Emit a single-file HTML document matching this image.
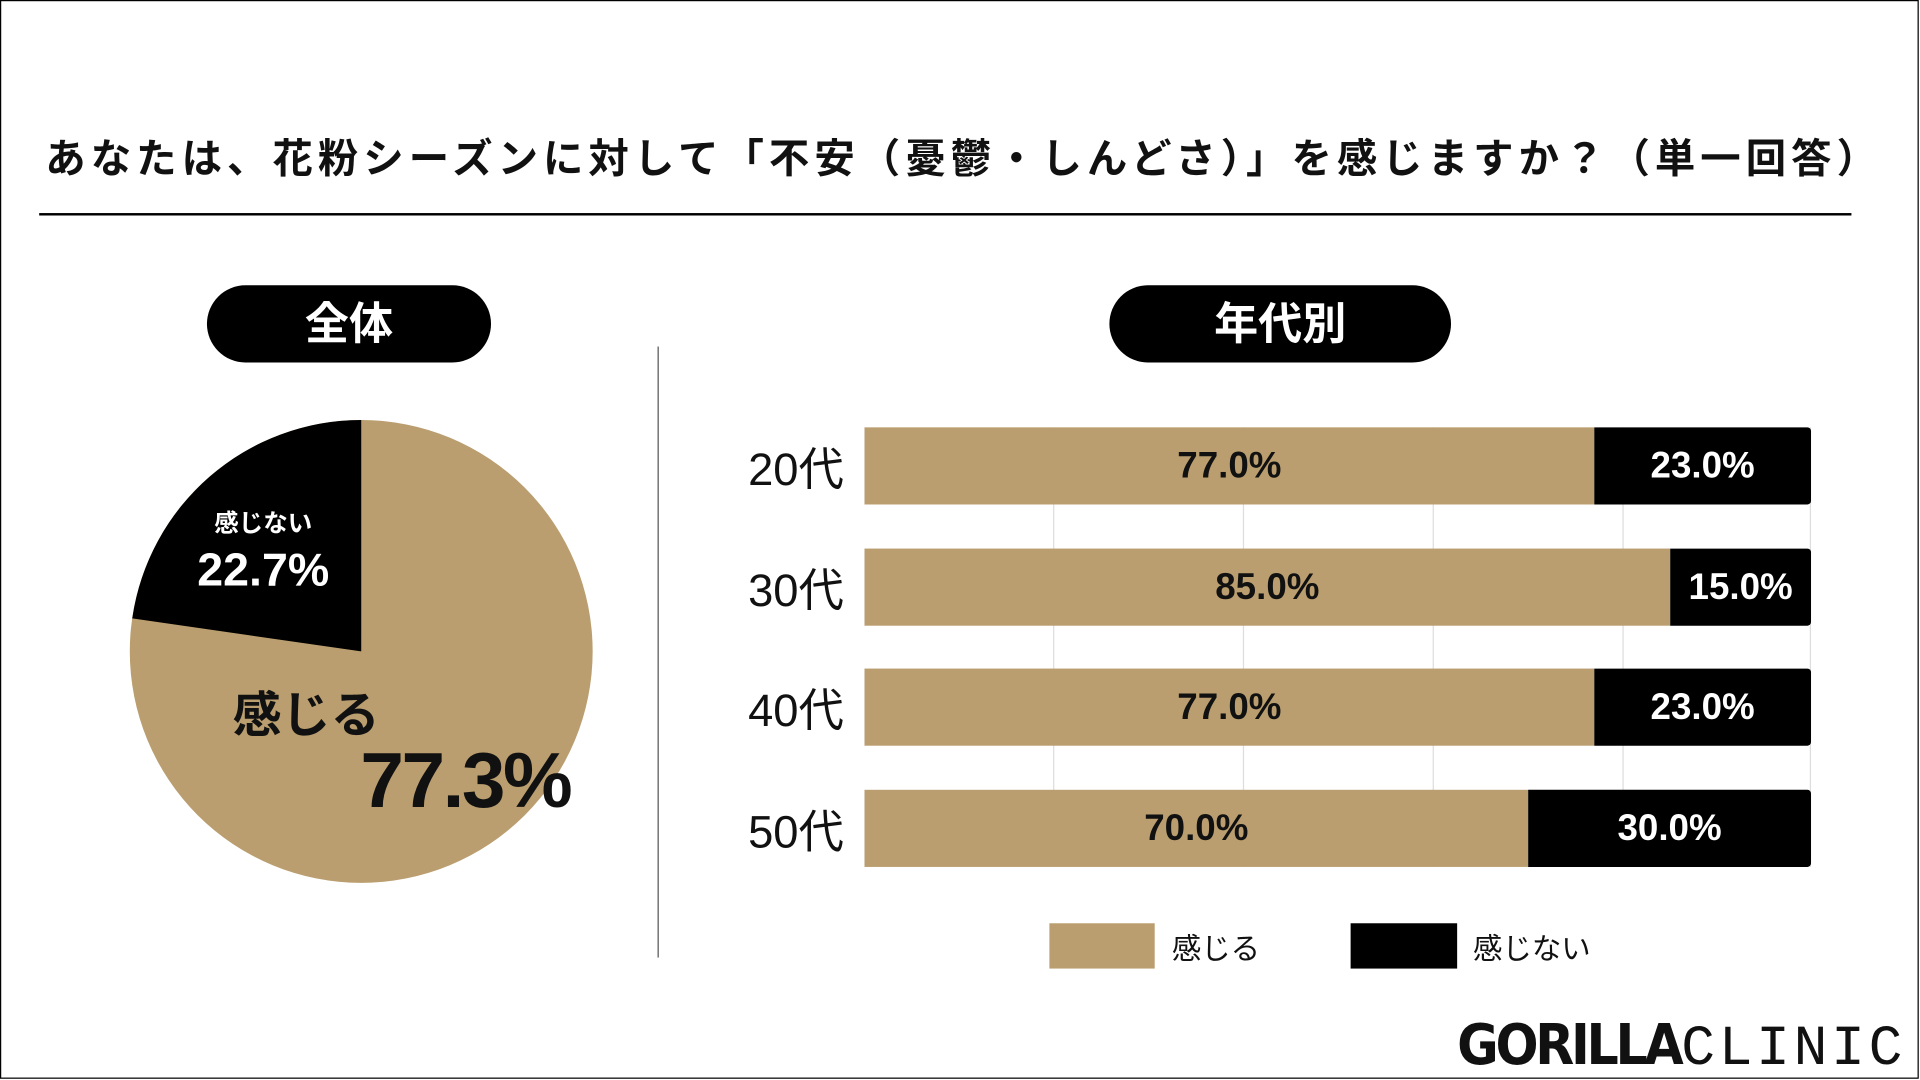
<!DOCTYPE html>
<html><head><meta charset="utf-8"><style>
html,body{margin:0;padding:0;background:#fff;}
#w{width:1920px;height:1080px;overflow:hidden;position:relative;}
#c{position:absolute;left:0;top:0;width:1568px;height:882px;transform:scale(1.22449);transform-origin:0 0;font-family:"Liberation Sans","Noto Sans CJK JP",sans-serif;color:#111;}
.abs{position:absolute;}
.pill{position:absolute;background:#000;color:#fff;border-radius:32px;font-weight:bold;font-size:36px;text-align:center;line-height:63px;height:63px;top:233px;}
.bar{position:absolute;left:706px;width:773px;height:63px;}
.t{background:#BA9E6F;position:absolute;top:0;bottom:0;left:0;font-weight:bold;font-size:30px;text-align:center;line-height:63px;color:#111;}
.k{background:#000;position:absolute;top:0;bottom:0;right:0;font-weight:bold;font-size:30px;text-align:center;line-height:63px;color:#fff;border-radius:0 3px 3px 0;}
.lab{position:absolute;left:600px;width:100px;text-align:center;font-size:37px;line-height:63px;}
.g{position:absolute;top:349px;height:359px;width:1px;background:#ddd;}
</style></head><body><div id="w"><div id="c">
<div class="abs" style="left:0;top:0;width:1565px;height:879px;border:1.5px solid #000;"></div>
<div class="abs" style="left:37px;top:103px;width:1540px;font-size:33px;font-weight:bold;white-space:nowrap;letter-spacing:4.1px;">あなたは、花粉シーズンに対して「不安（憂鬱・しんどさ）」を感じますか？（単一回答）</div>
<div class="abs" style="left:32px;top:174px;width:1480px;height:2px;background:#000;"></div>
<div class="pill" style="left:169px;width:232px;">全体</div>
<div class="pill" style="left:906px;width:279px;">年代別</div>
<div class="abs" style="left:537px;top:283px;width:1px;height:499px;background:#555;"></div>
<svg class="abs" style="left:0;top:0" width="600" height="882">
<circle cx="295" cy="532" r="189" fill="#BA9E6F"/>
<path d="M295 532 L295 343 A189 189 0 0 0 108 505 Z" fill="#000"/>
</svg>
<div class="abs" style="left:150px;top:411px;width:130px;text-align:center;color:#fff;font-weight:bold;font-size:20px;">感じない</div>
<div class="abs" style="left:140px;top:445px;width:150px;text-align:center;color:#fff;font-weight:bold;font-size:38px;">22.7%</div>
<div class="abs" style="left:170px;top:552px;width:160px;text-align:center;font-weight:bold;font-size:40px;">感じる</div>
<div class="abs" style="left:265px;top:600px;width:230px;text-align:center;font-weight:bold;font-size:64px;letter-spacing:-2px;">77.3%</div>
<div class="g" style="left:860px"></div><div class="g" style="left:1015px"></div><div class="g" style="left:1170px"></div><div class="g" style="left:1325px"></div><div class="g" style="left:1478px"></div>
<div class="lab" style="top:352px">20代</div>
<div class="bar" style="top:349px"><div class="t" style="width:596px">77.0%</div><div class="k" style="width:177px">23.0%</div></div>
<div class="lab" style="top:451px">30代</div>
<div class="bar" style="top:448px"><div class="t" style="width:658px">85.0%</div><div class="k" style="width:115px">15.0%</div></div>
<div class="lab" style="top:549px">40代</div>
<div class="bar" style="top:546px"><div class="t" style="width:596px">77.0%</div><div class="k" style="width:177px">23.0%</div></div>
<div class="lab" style="top:648px">50代</div>
<div class="bar" style="top:645px"><div class="t" style="width:542px">70.0%</div><div class="k" style="width:231px">30.0%</div></div>
<div class="abs" style="left:857px;top:754px;width:86px;height:37px;background:#BA9E6F;"></div>
<div class="abs" style="left:957px;top:755px;font-size:24px;">感じる</div>
<div class="abs" style="left:1103px;top:754px;width:87px;height:37px;background:#000;"></div>
<div class="abs" style="left:1203px;top:755px;font-size:24px;">感じない</div>
<div class="abs" style="left:1190px;top:828px;font-size:46px;white-space:nowrap;line-height:50px;"><span style="font-family:'DejaVu Sans','Liberation Sans',sans-serif;font-weight:900;letter-spacing:-3px;transform:scaleX(0.9);display:inline-block;transform-origin:0 0;width:183px;">GORILLA</span><span style="font-family:'Liberation Mono',monospace;font-size:46px;letter-spacing:3px;">CLINIC</span></div>
</div></div></body></html>
